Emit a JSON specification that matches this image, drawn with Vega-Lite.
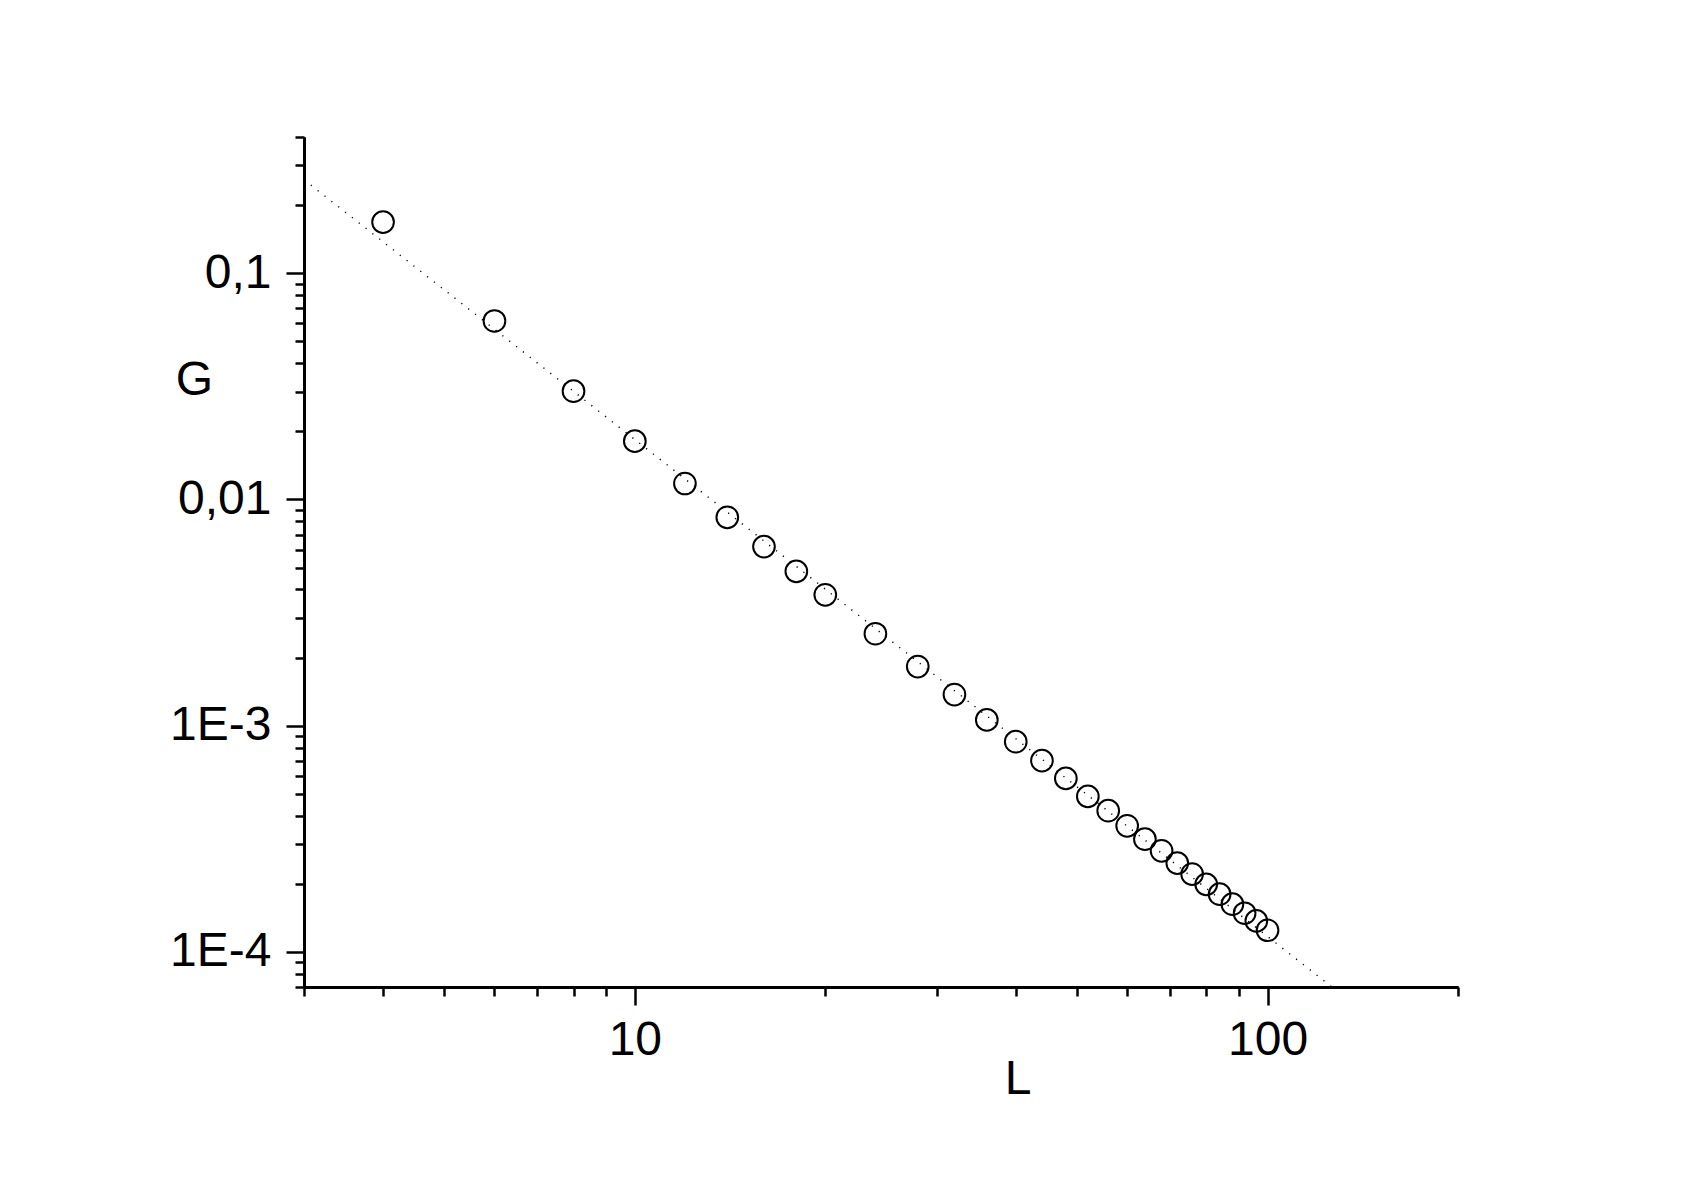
{
  "$schema": "https://vega.github.io/schema/vega-lite/v6.json",
  "width": 1154,
  "height": 850,
  "autosize": "none",
  "padding": {"left": 304, "top": 137, "right": 235, "bottom": 196},
  "background": "white",
  "config": {
    "view": {"stroke": null},
    "axis": {
      "grid": false,
      "domainColor": "black",
      "domainWidth": 3,
      "tickColor": "black",
      "tickWidth": 2.5,
      "labelColor": "black",
      "labelFont": "Liberation Sans",
      "labelFontSize": 48,
      "titleFont": "Liberation Sans",
      "titleFontSize": 48,
      "titleFontWeight": "normal",
      "titleColor": "black",
      "labelOverlap": false,
      "labelFlush": false,
      "labelBound": false
    }
  },
  "layer": [
    {
      "data": {"values": [{"L": 3, "G": 0.259}, {"L": 126.4, "G": 0.00007}]},
      "mark": {"type": "line", "strokeDash": [1.2, 7.5], "strokeWidth": 1.4, "color": "black", "clip": true},
      "encoding": {
        "x": {
          "field": "L", "type": "quantitative",
          "scale": {"type": "log", "domain": [3, 200], "nice": false},
          "axis": {
            "orient": "bottom",
            "values": [10, 100],
            "format": "d",
            "tickSize": 18,
            "labelPadding": 11,
            "title": "L",
            "titleX": 713.7,
            "titleY": 106,
            "titleAlign": "center",
            "titleBaseline": "alphabetic"
          }
        },
        "y": {
          "field": "G", "type": "quantitative",
          "scale": {"type": "log", "domain": [0.00007, 0.4], "nice": false},
          "axis": {
            "orient": "left",
            "values": [0.1, 0.01, 0.001, 0.0001],
            "labelExpr": "datum.value == 0.1 ? '0,1' : datum.value == 0.01 ? '0,01' : datum.value == 0.001 ? '1E-3' : '1E-4'",
            "tickSize": 18,
            "labelPadding": 15,
            "title": "G",
            "titleAngle": 0,
            "titleX": -110,
            "titleY": 257,
            "titleAlign": "center",
            "titleBaseline": "alphabetic"
          }
        }
      }
    },
    {
      "data": {"values": [
        {"L": 4, "G": 0.1682},
        {"L": 6, "G": 0.0615},
        {"L": 8, "G": 0.0301},
        {"L": 10, "G": 0.0181},
        {"L": 12, "G": 0.01176},
        {"L": 14, "G": 0.00834},
        {"L": 16, "G": 0.00619},
        {"L": 18, "G": 0.00481},
        {"L": 20, "G": 0.00379},
        {"L": 24, "G": 0.00255},
        {"L": 28, "G": 0.001826},
        {"L": 32, "G": 0.001373},
        {"L": 36, "G": 0.001061},
        {"L": 40, "G": 0.00085},
        {"L": 44, "G": 0.000701},
        {"L": 48, "G": 0.000585},
        {"L": 52, "G": 0.000487},
        {"L": 56, "G": 0.000421},
        {"L": 60, "G": 0.000361},
        {"L": 64, "G": 0.000315},
        {"L": 68, "G": 0.00028},
        {"L": 72, "G": 0.000247},
        {"L": 76, "G": 0.000221},
        {"L": 80, "G": 0.000199},
        {"L": 84, "G": 0.00018},
        {"L": 88, "G": 0.0001626},
        {"L": 92, "G": 0.0001483},
        {"L": 96, "G": 0.0001372},
        {"L": 100, "G": 0.0001247}
      ]},
      "mark": {"type": "point", "shape": "circle", "filled": false, "size": 470, "stroke": "black", "strokeWidth": 2, "opacity": 1},
      "encoding": {
        "x": {
          "field": "L", "type": "quantitative",
          "scale": {"type": "log", "domain": [3, 200], "nice": false},
          "axis": {
            "orient": "bottom",
            "values": [3, 4, 5, 6, 7, 8, 9, 20, 30, 40, 50, 60, 70, 80, 90, 200],
            "labels": false,
            "tickSize": 9,
            "title": null
          }
        },
        "y": {
          "field": "G", "type": "quantitative",
          "scale": {"type": "log", "domain": [0.00007, 0.4], "nice": false},
          "axis": {
            "orient": "left",
            "values": [0.00007, 0.00008, 0.00009, 0.0002, 0.0003, 0.0004, 0.0005, 0.0006, 0.0007, 0.0008, 0.0009, 0.002, 0.003, 0.004, 0.005, 0.006, 0.007, 0.008, 0.009, 0.02, 0.03, 0.04, 0.05, 0.06, 0.07, 0.08, 0.09, 0.2, 0.3, 0.4],
            "labels": false,
            "tickSize": 9,
            "title": null
          }
        }
      }
    }
  ],
  "resolve": {"axis": {"x": "independent", "y": "independent"}}
}
